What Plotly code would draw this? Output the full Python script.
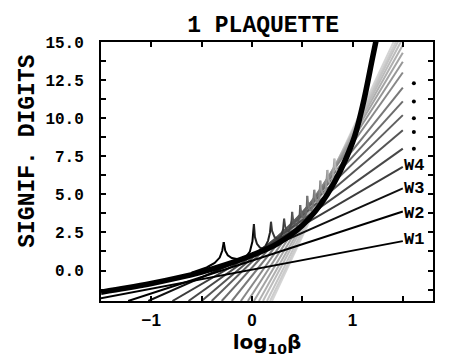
import plotly.graph_objs as go

# truncated series: where each line meets the bottom (y=-2) and its value at log10(beta)=1.5
line_names = ['W1', 'W2', 'W3', 'W4', 'W5', 'W6', 'W7', 'W8', 'W9',
              'W10', 'W11', 'W12', 'W13', 'W14', 'W15', 'W16', 'W17']
line_x_start = [-1.64, -1.23, -1.03, -0.79, -0.63, -0.50, -0.40, -0.30, -0.20,
                -0.11, -0.04, 0.02, 0.07, 0.11, 0.15, 0.18, 0.20]
line_y_end = [1.93, 3.87, 5.39, 6.80, 8.00, 9.20, 10.20, 11.10, 12.00,
              13.00, 13.70, 14.30, 14.80, 15.25, 15.65, 15.95, 16.30]
line_colors = ['#000000', '#000000', '#101010', '#3c3c3c', '#484848', '#555555',
               '#606060', '#6c6c6c', '#787878', '#888888', '#969696', '#a4a4a4',
               '#b0b0b0', '#bcbcbc', '#c4c4c4', '#cccccc', '#d4d4d4']

# thick curve
thick_x = [-1.5, -1.25, -1.0, -0.75, -0.5, -0.25, 0.0, 0.25, 0.5, 0.75, 1.0, 1.1, 1.2, 1.25]
thick_y = [-1.42, -1.15, -0.85, -0.5, -0.1, 0.4, 1.0, 1.75, 2.95, 5.0, 8.4, 10.8, 14.0, 15.6]

# cusped curve, one piece per colour
cusp_x = [
    [-0.6, -0.45, -0.37, -0.32, -0.295, -0.28],
    [-0.28, -0.265, -0.24, -0.2, -0.15, -0.11, -0.06, -0.02, 0.005, 0.02],
    [0.02, 0.03, 0.05, 0.08, 0.1, 0.13, 0.16, 0.18, 0.19],
    [0.19, 0.2, 0.225, 0.26, 0.29, 0.31, 0.32],
    [0.32, 0.33, 0.35, 0.365, 0.38, 0.395, 0.40],
    [0.40, 0.41, 0.43, 0.445, 0.46, 0.475, 0.48],
    [0.48, 0.49, 0.505, 0.52, 0.535, 0.545, 0.55],
    [0.55, 0.56, 0.575, 0.59, 0.605, 0.615, 0.62],
    [0.62, 0.63, 0.645, 0.655, 0.67, 0.677, 0.68],
    [0.68, 0.69, 0.705, 0.72, 0.735, 0.745, 0.75],
    [0.75, 0.76, 0.775, 0.79, 0.805, 0.815, 0.82],
    [0.82, 0.83, 0.85, 0.87],
]
cusp_y = [
    [-0.15, 0.2, 0.5, 0.85, 1.3, 1.86],
    [1.86, 1.3, 1.0, 0.82, 0.75, 0.76, 0.9, 1.25, 1.9, 3.05],
    [3.05, 2.2, 1.75, 1.5, 1.45, 1.55, 1.95, 2.5, 3.2],
    [3.2, 2.6, 2.2, 2.05, 2.25, 2.7, 3.4],
    [3.4, 2.9, 2.6, 2.55, 2.8, 3.3, 3.85],
    [3.85, 3.3, 3.0, 2.95, 3.2, 3.7, 4.3],
    [4.3, 3.8, 3.5, 3.45, 3.7, 4.2, 4.9],
    [4.9, 4.3, 4.0, 3.95, 4.2, 4.7, 5.3],
    [5.3, 4.8, 4.5, 4.5, 4.8, 5.3, 5.9],
    [5.9, 5.3, 5.05, 5.05, 5.4, 6.0, 6.6],
    [6.6, 6.0, 5.7, 5.7, 6.1, 6.7, 7.35],
    [7.35, 6.8, 6.5, 6.5],
]
cusp_colors = ['#000000', '#000000', '#202020', '#383838', '#484848', '#585858',
               '#686868', '#787878', '#888888', '#989898', '#a8a8a8', '#b8b8b8']

label_text = ['W1', 'W2', 'W3', 'W4']
label_y = [2.04, 3.75, 5.37, 6.9]
dots_y = [8.0, 9.1, 10.0, 11.1, 12.3]

mono = 'Liberation Mono'

fig = go.Figure()

for i in range(len(line_names) - 1, -1, -1):
    fig.add_trace(go.Scatter(
        x=[line_x_start[i], 1.5], y=[-2, line_y_end[i]],
        mode='lines', line=dict(color=line_colors[i], width=2),
        name=line_names[i], hoverinfo='skip'))

for xs, ys, c in zip(cusp_x, cusp_y, cusp_colors):
    fig.add_trace(go.Scatter(x=xs, y=ys, mode='lines',
                             line=dict(color=c, width=2)))

fig.add_trace(go.Scatter(x=thick_x, y=thick_y, mode='lines',
                         line=dict(color='black', width=5.5, shape='spline')))

fig.add_trace(go.Scatter(x=[1.61] * len(dots_y), y=dots_y, mode='markers',
                         marker=dict(color='black', size=4)))

for t, y in zip(label_text, label_y):
    fig.add_annotation(x=1.49, y=y, text='<b>%s</b>' % t, showarrow=False,
                       xanchor='left', yanchor='middle',
                       font=dict(family=mono, size=17, color='black'))

# y axis title sits above the middle of the axis in the original
fig.add_annotation(xref='paper', yref='paper', x=-0.22, y=0.58,
                   text='<b>SIGNIF. DIGITS</b>', textangle=-90, showarrow=False,
                   xanchor='center', yanchor='middle',
                   font=dict(family=mono, size=23, color='black'))

# the page adds 8px of body margin, so the figure is a bit smaller than the window
fig.update_layout(
    width=463, height=352,
    margin=dict(l=93, r=38, t=34, b=59),
    paper_bgcolor='white', plot_bgcolor='white',
    showlegend=False,
    title=dict(text='<b>1 PLAQUETTE</b>', x=0.551, xanchor='center',
               y=0.955, yanchor='middle',
               font=dict(family=mono, size=23, color='black')),
    xaxis=dict(
        range=[-1.5, 1.8], tickvals=[-1, 0, 1], automargin=False,
        ticks='inside', ticklen=5, tickwidth=2, tickcolor='black',
        minor=dict(tickvals=[-1.5, -0.5, 0.5, 1.5], ticks='inside', ticklen=5,
                   tickwidth=2, tickcolor='black'),
        showline=True, linewidth=2, linecolor='black', mirror='ticks',
        showgrid=False, zeroline=False,
        tickfont=dict(family='Liberation Sans', size=17, color='black', weight='bold'),
        ticklabelstandoff=3,
        title=dict(text='<b>log<sub>10</sub>β</b>', standoff=2,
                   font=dict(family='DejaVu Sans', size=20, color='black')),
    ),
    yaxis=dict(
        range=[-2, 15], tickvals=[0, 2.5, 5, 7.5, 10, 12.5, 15], tickformat='.1f',
        automargin=False,
        ticks='inside', ticklen=5, tickwidth=2, tickcolor='black',
        minor=dict(tickvals=[-1.25, 1.25, 3.75, 6.25, 8.75, 11.25, 13.75],
                   ticks='inside', ticklen=5, tickwidth=2, tickcolor='black'),
        showline=True, linewidth=2, linecolor='black', mirror='ticks',
        showgrid=False, zeroline=False,
        tickfont=dict(family=mono, size=16, color='black', weight='bold'),
        ticklabelstandoff=12,
    ),
)

fig.write_html("out.html")
